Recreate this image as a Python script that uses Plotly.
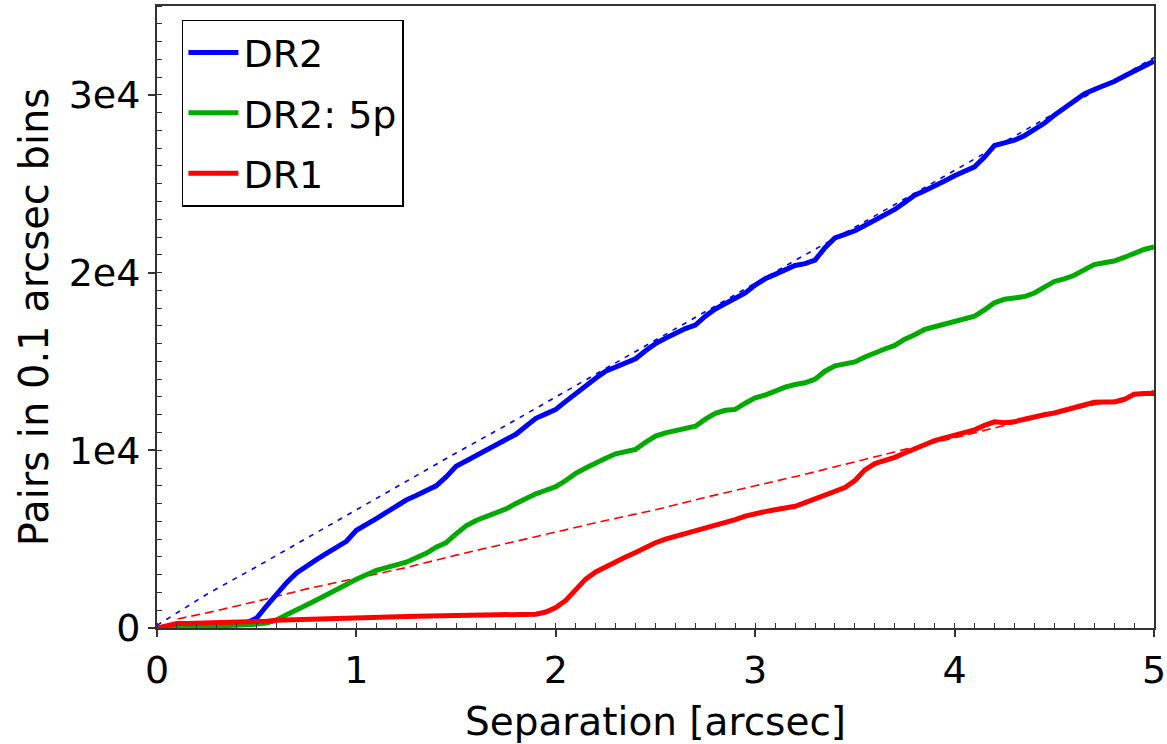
import numpy as np
import plotly.graph_objects as go

# Separation grid (arcsec) for the measured pair counts
sep = [round(0.05 * i, 2) for i in range(101)]

# Pair counts per 0.1 arcsec bin
dr2 = [
    0, 20, 40, 60, 80, 100, 130, 160, 200, 300,
    560, 1250, 1950, 2550, 3100, 3500, 3850, 4200, 4550, 4880,
    5500, 5800, 6150, 6500, 6850, 7200, 7450, 7750, 8000, 8500,
    9100, 9400, 9700, 9950, 10250, 10550, 10900, 11350, 11800, 12050,
    12300, 12750, 13200, 13650, 14050, 14450, 14700, 14950, 15150, 15600,
    16000, 16300, 16600, 16850, 17050, 17550, 17950, 18250, 18550, 18850,
    19300, 19650, 19900, 20150, 20400, 20500, 20700, 21400, 21950, 22150,
    22350, 22650, 22950, 23250, 23550, 23950, 24350, 24600, 24850, 25150,
    25450, 25700, 25950, 26500, 27150, 27300, 27450, 27700, 28050, 28400,
    28850, 29250, 29600, 30050, 30300, 30500, 30750, 31050, 31350, 31650,
    31900,
]
dr2_5p = [
    0, 0, 20, 40, 60, 80, 100, 120, 150, 180,
    220, 280, 450, 750, 1000, 1300, 1580, 1850, 2150, 2450,
    2750, 3000, 3250, 3400, 3550, 3700, 3950, 4200, 4550, 4800,
    5300, 5750, 6050, 6250, 6450, 6700, 7000, 7300, 7550, 7750,
    7950, 8300, 8700, 9000, 9300, 9550, 9800, 9950, 10050, 10450,
    10800, 10980, 11100, 11250, 11350, 11750, 12080, 12250, 12300, 12650,
    12950, 13110, 13350, 13550, 13700, 13800, 14000, 14450, 14750, 14850,
    14970, 15250, 15500, 15700, 15900, 16250, 16500, 16800, 16950, 17100,
    17250, 17400, 17550, 17900, 18300, 18500, 18550, 18650, 18850, 19150,
    19500, 19650, 19850, 20150, 20450, 20550, 20650, 20850, 21100, 21300,
    21450,
]
dr1 = [
    0, 150, 250, 250, 260, 270, 280, 300, 350, 360,
    370, 380, 430, 450, 460, 470, 520, 545, 550, 560,
    570, 580, 590, 600, 640, 650, 655, 660, 665, 700,
    680, 690, 720, 725, 730, 730, 735, 740, 780, 900,
    1150, 1550, 2150, 2750, 3150, 3450, 3750, 4000, 4250, 4550,
    4800, 5000, 5150, 5300, 5450, 5600, 5750, 5900, 6100, 6300,
    6450, 6550, 6650, 6750, 6850, 7050, 7250, 7450, 7650, 7900,
    8300, 8900, 9250, 9400, 9600, 9850, 10100, 10350, 10550, 10700,
    10850, 11000, 11150, 11400, 11600, 11550, 11600, 11750, 11900, 12000,
    12100, 12250, 12400, 12550, 12700, 12720, 12720, 12850, 13150, 13200,
    13200,
]

# Expected counts for random pairs (dashed reference curves)
sep_model = [0.0, 0.25, 0.5, 0.75, 1.0, 1.25, 1.5, 1.75, 2.0, 2.25, 2.5,
             2.75, 3.0, 3.25, 3.5, 3.75, 4.0, 4.25, 4.5, 4.75, 5.0]
dr2_random = [150, 1900, 3450, 5050, 6650, 8250, 9850, 11400, 13000, 14600, 16200,
              17800, 19400, 21000, 22550, 24150, 25750, 27350, 28950, 30500, 32100]
sep_model_dr1 = [0.05, 0.1, 0.25, 0.5, 0.75, 1.0, 1.25, 1.5, 1.75, 2.0, 2.25, 2.5,
                 2.75, 3.0, 3.25, 3.5, 3.75, 4.0, 4.25, 4.5, 4.75, 5.0]
dr1_random = [0, 500, 850, 1500, 2200, 2800, 3400, 4100, 4750, 5400, 6050, 6650,
              7350, 8000, 8650, 9350, 10050, 10700, 11400, 12050, 12700, 13350]

x_ticks = [0, 1, 2, 3, 4, 5]
x_ticktext = ["0", "1", "2", "3", "4", "5"]
y_ticks = [0, 10000, 20000, 30000]
y_ticktext = ["0", "1e4", "2e4", "3e4"]

BLUE = "#0000ff"
GREEN = "#00aa00"
RED = "#ff0000"
FONT = "DejaVu Sans"
AXIS = "#333333"

fig = go.Figure()

fig.add_trace(go.Scatter(x=sep_model, y=dr2_random, mode="lines", showlegend=False,
                         line=dict(color=BLUE, width=1.6, dash="5px,6px")))
fig.add_trace(go.Scatter(x=sep_model_dr1, y=dr1_random, mode="lines", showlegend=False,
                         line=dict(color=RED, width=1.6, dash="9px,5px")))
fig.add_trace(go.Scatter(x=sep, y=dr2, mode="lines", name="DR2", legendgroup="a",
                         line=dict(color=BLUE, width=5)))
fig.add_trace(go.Scatter(x=sep, y=dr2_5p, mode="lines", name="DR2: 5p", legendgroup="b",
                         line=dict(color=GREEN, width=5)))
fig.add_trace(go.Scatter(x=sep, y=dr1, mode="lines", name="DR1", legendgroup="c",
                         line=dict(color=RED, width=5)))

axis_common = dict(
    showline=True, linecolor=AXIS, linewidth=2, mirror=True,
    showgrid=False, zeroline=False,
    ticks="outside", ticklen=7, tickwidth=1.5, tickcolor=AXIS,
    tickfont=dict(family=FONT, size=38, color="black"),
    ticklabeloverflow="allow",
    automargin=False,
)

fig.update_layout(
    width=1167, height=744, autosize=False,
    margin=dict(l=157, r=13, t=6, b=116),
    paper_bgcolor="white", plot_bgcolor="white",
    font=dict(family=FONT, color="black"),
    showlegend=True,
    legend=dict(
        x=0.025, y=0.978, xanchor="left", yanchor="top",
        bgcolor="white", bordercolor="black", borderwidth=1.5,
        font=dict(family=FONT, size=38, color="black"),
        tracegroupgap=8, itemwidth=50,
        entrywidth=170, entrywidthmode="pixels",
    ),
    xaxis=dict(
        axis_common,
        range=[0, 5],
        tickvals=x_ticks, ticktext=x_ticktext,
        minor=dict(dtick=0.1, ticks="inside", ticklen=5, tickwidth=1.2, tickcolor=AXIS),
        title=dict(text="Separation [arcsec]", font=dict(family=FONT, size=39), standoff=30),
    ),
    yaxis=dict(
        axis_common,
        range=[0, 35000],
        tickvals=y_ticks, ticktext=y_ticktext,
        minor=dict(dtick=1000, ticks="inside", ticklen=5, tickwidth=1.2, tickcolor=AXIS),
        title=dict(text="Pairs in 0.1 arcsec bins", font=dict(family=FONT, size=40), standoff=8),
    ),
)

fig.write_html("out.html")
